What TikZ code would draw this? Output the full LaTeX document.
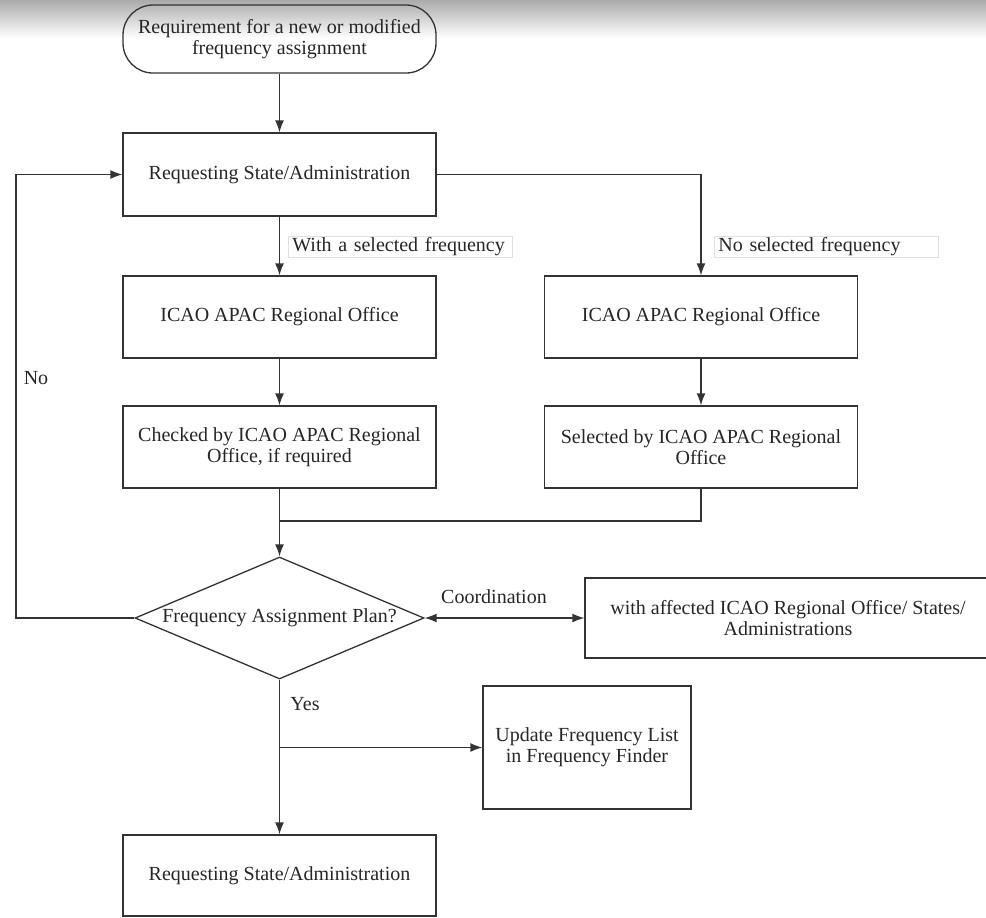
\documentclass[tikz,border=0pt]{standalone}
\usepackage{fontspec}
\setmainfont{Liberation Serif}
\usepackage{tikz}
\usetikzlibrary{arrows.meta,shapes.geometric}

\begin{document}
\begin{tikzpicture}[x=0.5pt, y=-0.5pt,
    every node/.style={font=\fontsize{10}{10.5}\selectfont, text=black!85},
    >={Latex[length=6pt,width=4.5pt]},
    line/.style={draw=black!80, line width=0.65pt},
    stepbox/.style={line, rectangle, minimum width=156.5pt, minimum height=41pt,
        inner sep=2pt, align=center},
    tag/.style={draw=black!12, line width=0.4pt, inner xsep=2pt, inner ysep=0pt,
        minimum height=10.5pt, text width=108pt, align=left, anchor=west}
    ]

\useasboundingbox (0, 0) rectangle (986, 917);

% shadow band at the top
\shade[top color=black!33, bottom color=white] (0, 0) rectangle (986, 38);

\node[line, rectangle, rounded corners=15pt, minimum width=156.5pt, minimum height=34pt,
      inner sep=0pt, align=center] (start) at (279.5, 39)
      {Requirement for a new or modified\\frequency assignment};

\node[stepbox, minimum height=41.5pt] (request) at (279.5, 174.5) {Requesting State/Administration};

\node[stepbox] (officeA) at (279.5, 317) {ICAO APAC Regional Office};
\node[stepbox] (officeB) at (701, 317) {ICAO APAC Regional Office};

\node[stepbox] (checked) at (279.5, 447) {Checked by ICAO APAC Regional\\Office, if required};
\node[stepbox] (selected) at (701, 447) {Selected by ICAO APAC Regional\\Office};

\node[line, diamond, shape aspect=2.37, inner sep=0pt, minimum width=144.5pt,
      minimum height=61pt] (plan) at (279.5, 618) {Frequency Assignment Plan?};

\node[stepbox, minimum width=203pt, minimum height=40pt] (affected) at (788, 618)
      {with affected ICAO Regional Office/ States/\\Administrations};

\node[stepbox, minimum width=104pt, minimum height=61.5pt] (update) at (587, 747.5)
      {Update Frequency List\\in Frequency Finder};

\node[stepbox, minimum height=40.5pt] (result) at (279.5, 875.5) {Requesting State/Administration};

% labels
\node[tag] (withsel) at (288, 246.5) {With a selected frequency};
\node[tag] (nosel) at (714, 246.5) {No selected frequency};
\node (no) at (36, 378) {No};
\node (coordlbl) at (494, 597) {Coordination};
\node (yes) at (305, 704) {Yes};

\coordinate (merge) at (279.5, 521);
\coordinate (noturn) at (16, 618);
\coordinate (split) at (279.5, 747.5);

\draw[line, ->] (start) -- (request);
\draw[line, ->] (request.east) -| (officeB.north);
\draw[line, ->] (request) -- (officeA);
\draw[line, ->] (officeA) -- (checked);
\draw[line, ->] (officeB) -- (selected);
\draw[line] (selected.south) |- (merge);
\draw[line, ->] (checked) -- (plan);
\draw[line, ->] (plan.west) -- (noturn) |- (request.west);
\draw[line, <->] (plan.east) -- (affected.west);
\draw[line, ->] (plan.south) -- (result.north);
\draw[line, ->] (split) -- (update.west);

\end{tikzpicture}
\end{document}
